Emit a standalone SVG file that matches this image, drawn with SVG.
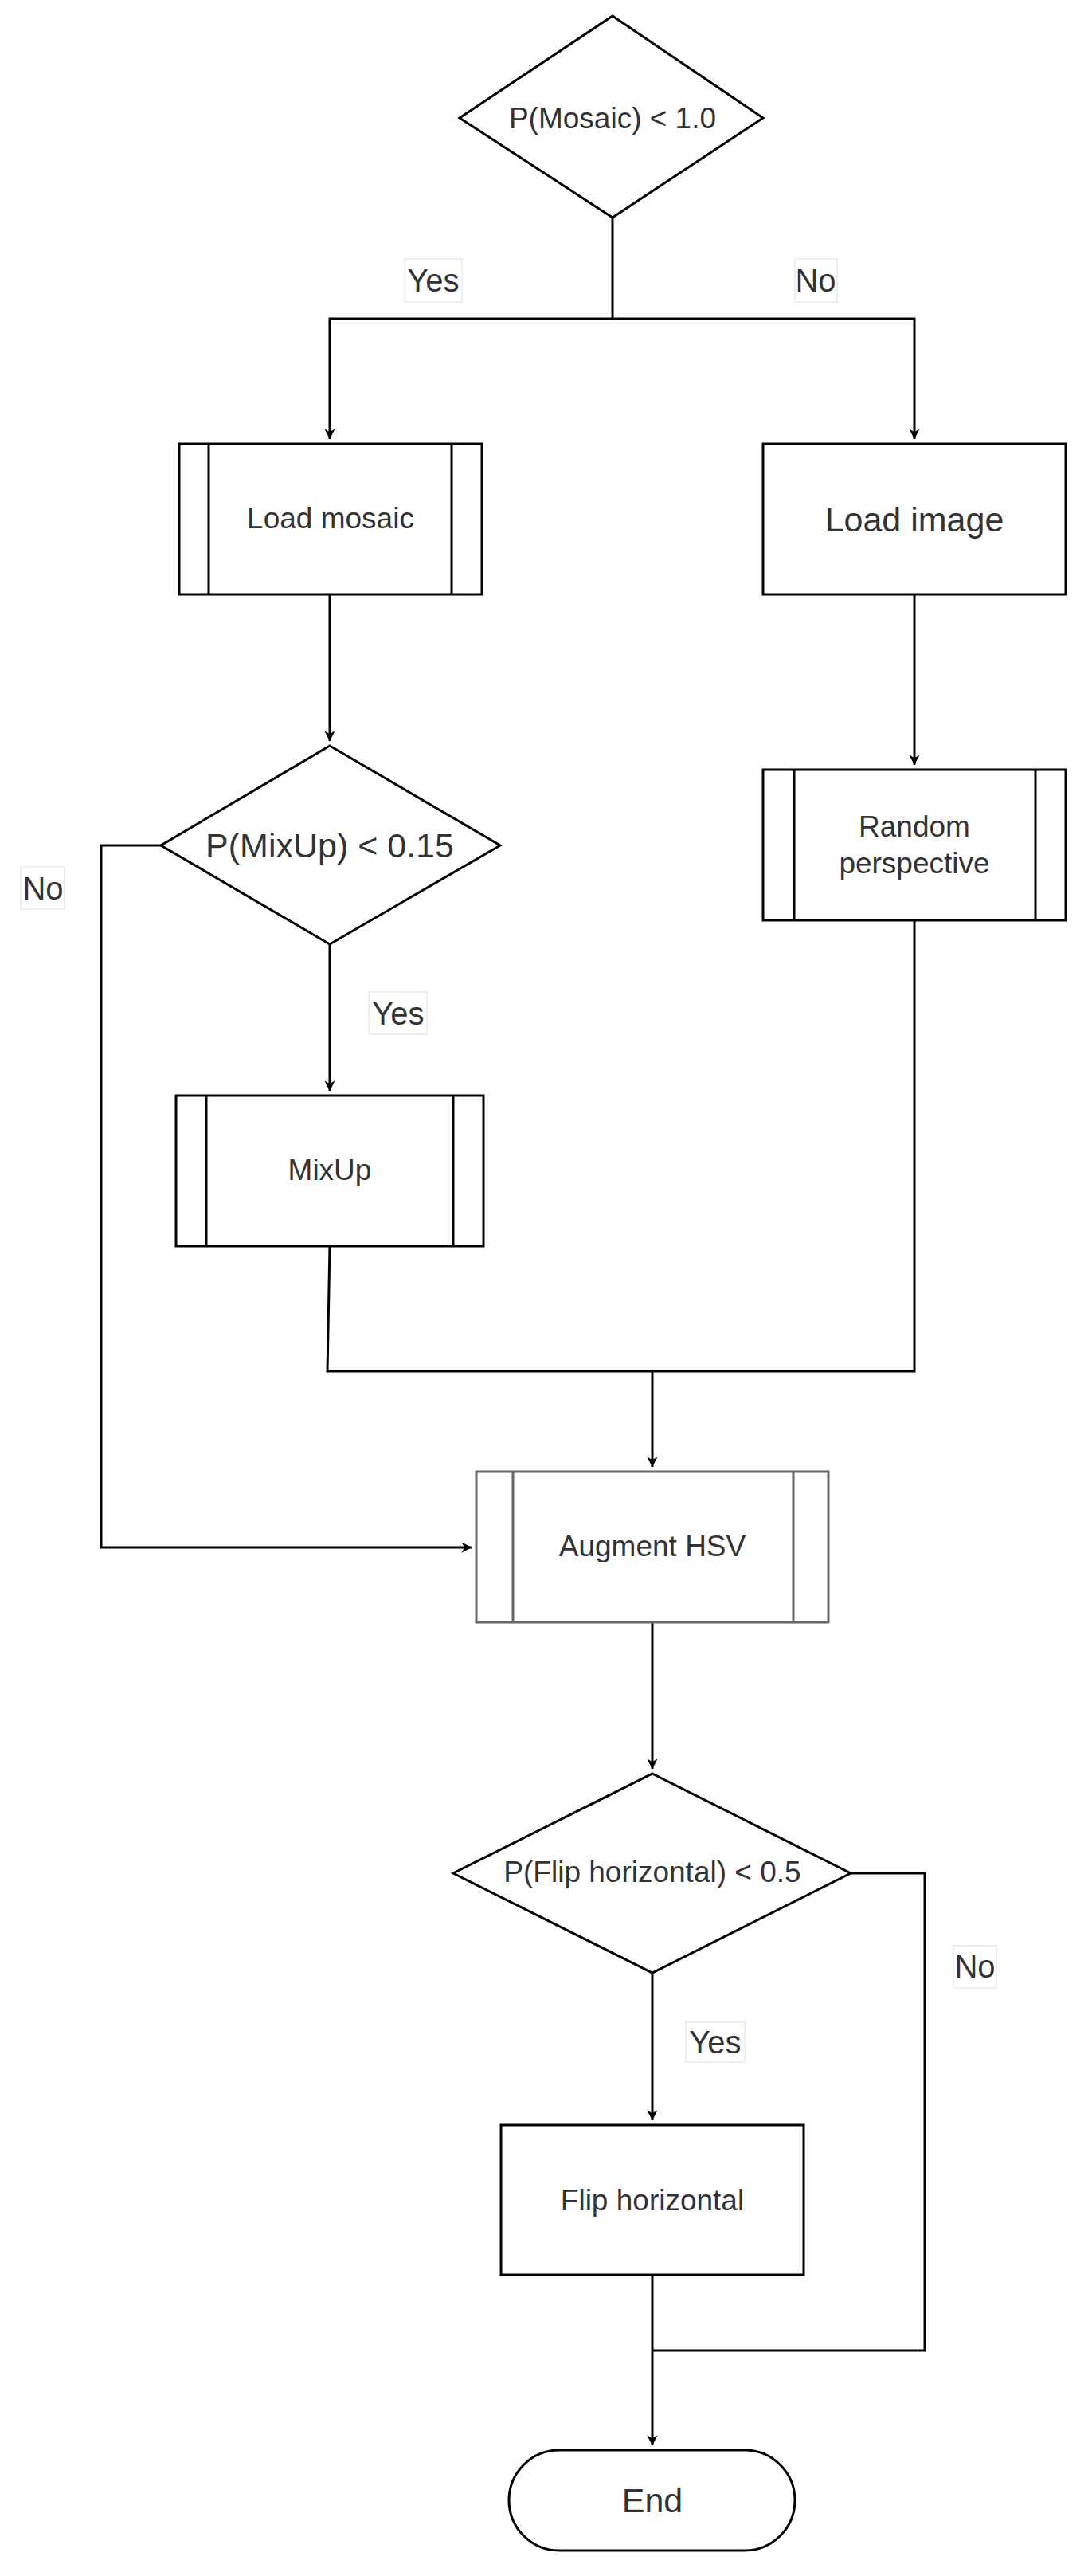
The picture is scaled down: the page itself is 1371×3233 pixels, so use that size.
<svg xmlns="http://www.w3.org/2000/svg" width="1371" height="3233" viewBox="0 0 1371 3233">
<style>
.s{fill:#fff;stroke:#000;stroke-width:3}
.g{fill:#fff;stroke:#666;stroke-width:3}
.c{fill:none;stroke:#000;stroke-width:3}
text{font-family:"Liberation Sans",Arial,sans-serif;fill:#333;text-anchor:middle;dominant-baseline:central}
.lb{fill:#fff;stroke:#ddd;stroke-width:1}
</style>
<defs>
<marker id="a" viewBox="0 0 10 10" refX="9" refY="5" markerWidth="6" markerHeight="6" orient="auto" markerUnits="userSpaceOnUse" style="overflow:visible">
<path d="M0,0 L10,5 L0,10 L3,5 Z" fill="#000" transform="scale(2.2) translate(-5.5,-2.7)"/>
</marker>
</defs>
<g id="connectors">
<path class="c" d="M769,273 V400 H414 V551" marker-end="url(#a)"/>
<path class="c" d="M769,400 H1148 V551" marker-end="url(#a)"/>
<path class="c" d="M414,746 V930" marker-end="url(#a)"/>
<path class="c" d="M1148,746 V960" marker-end="url(#a)"/>
<path class="c" d="M414,1185 V1369" marker-end="url(#a)"/>
<path class="c" d="M202,1061 H127 V1942 H592" marker-end="url(#a)"/>
<path class="c" d="M414,1564 L411,1721 H1148 V1155"/>
<path class="c" d="M819,1721 V1841" marker-end="url(#a)"/>
<path class="c" d="M819,2036 V2220" marker-end="url(#a)"/>
<path class="c" d="M819,2476 V2661" marker-end="url(#a)"/>
<path class="c" d="M1068,2351 H1161 V2950 H819"/>
<path class="c" d="M819,2855 V3069" marker-end="url(#a)"/>
</g>
<g id="lbl-yes1"><rect class="lb" x="508" y="325" width="72" height="54"/><text x="544" y="352" font-size="40">Yes</text></g>
<g id="lbl-no1"><rect class="lb" x="998" y="325" width="53" height="54"/><text x="1024" y="352" font-size="40">No</text></g>
<g id="lbl-no2"><rect class="lb" x="26" y="1088" width="55" height="53"/><text x="54" y="1115" font-size="40">No</text></g>
<g id="lbl-yes2"><rect class="lb" x="463" y="1245" width="73" height="53"/><text x="500" y="1272" font-size="40">Yes</text></g>
<g id="lbl-no3"><rect class="lb" x="1197" y="2442" width="54" height="53"/><text x="1224" y="2468" font-size="40">No</text></g>
<g id="lbl-yes3"><rect class="lb" x="861" y="2538" width="74" height="50"/><text x="898" y="2563" font-size="40">Yes</text></g>
<g id="d1"><polygon class="s" points="769,20 958,148 769,273 577,148"/><text x="769" y="148" font-size="37">P(Mosaic) &lt; 1.0</text></g>
<g id="loadmosaic"><rect class="s" x="225" y="557" width="380" height="189"/><line class="s" x1="262" y1="557" x2="262" y2="746"/><line class="s" x1="567" y1="557" x2="567" y2="746"/><text x="415" y="650" font-size="37">Load mosaic</text></g>
<g id="loadimage"><rect class="s" x="958" y="557" width="380" height="189"/><text x="1148" y="652" font-size="43">Load image</text></g>
<g id="d2"><polygon class="s" points="414,936 628,1061 414,1185 202,1061"/><text x="414" y="1061" font-size="43">P(MixUp) &lt; 0.15</text></g>
<g id="randpersp"><rect class="s" x="958" y="966" width="380" height="189"/><line class="s" x1="997" y1="966" x2="997" y2="1155"/><line class="s" x1="1300" y1="966" x2="1300" y2="1155"/><text x="1148" y="1037" font-size="37">Random</text><text x="1148" y="1083" font-size="37">perspective</text></g>
<g id="mixup"><rect class="s" x="221" y="1375" width="386" height="189"/><line class="s" x1="259" y1="1375" x2="259" y2="1564"/><line class="s" x1="569" y1="1375" x2="569" y2="1564"/><text x="414" y="1468" font-size="37">MixUp</text></g>
<g id="augment"><rect class="g" x="598" y="1847" width="442" height="189"/><line class="g" x1="644" y1="1847" x2="644" y2="2036"/><line class="g" x1="996" y1="1847" x2="996" y2="2036"/><text x="819" y="1940" font-size="37">Augment HSV</text></g>
<g id="d3"><polygon class="s" points="819,2226 1068,2351 819,2476 569,2351"/><text x="819" y="2349" font-size="37">P(Flip horizontal) &lt; 0.5</text></g>
<g id="flip"><rect class="s" x="629" y="2667" width="380" height="188"/><text x="819" y="2761" font-size="37">Flip horizontal</text></g>
<g id="end"><rect class="s" x="639" y="3075" width="359" height="126" rx="63" ry="63"/><text x="819" y="3138" font-size="43">End</text></g>
</svg>
